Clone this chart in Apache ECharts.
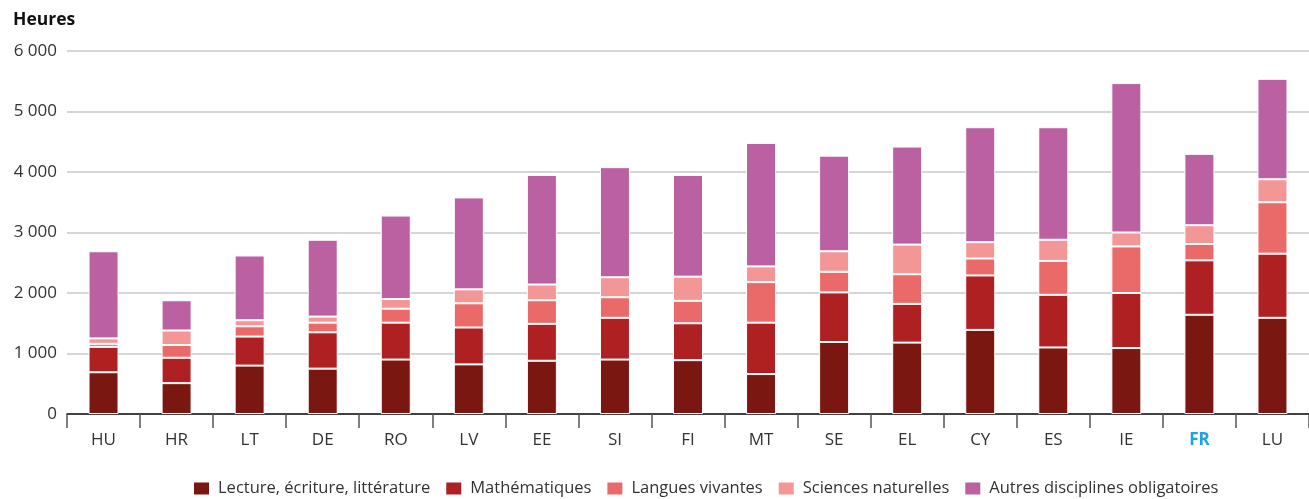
<!DOCTYPE html>
<html>
<head>
<meta charset="utf-8">
<script src="https://cdn.jsdelivr.net/npm/echarts@6/dist/echarts.min.js"></script>
<style>
  html, body { margin: 0; padding: 0; background: #fff; }
  #chart { width: 1309px; height: 499px; }
</style>
</head>
<body>
<div id="chart"></div>
<script>
// Heures d'enseignement obligatoires par pays et par discipline
const countries = ['HU', 'HR', 'LT', 'DE', 'RO', 'LV', 'EE', 'SI', 'FI', 'MT', 'SE', 'EL', 'CY', 'ES', 'IE', 'FR', 'LU'];

const lecture   = [690, 510, 800, 750, 900, 820, 880, 900, 890, 660, 1190, 1180, 1390, 1100, 1090, 1640, 1590];
const maths     = [420, 420, 480, 600, 610, 610, 610, 690, 610, 850, 820, 640, 900, 870, 910, 900, 1060];
const langues   = [50, 210, 170, 160, 230, 400, 390, 340, 370, 670, 340, 490, 280, 560, 770, 270, 850];
const sciences  = [90, 240, 100, 100, 160, 230, 260, 330, 400, 260, 340, 490, 270, 350, 230, 310, 380];
const autres    = [1440, 500, 1070, 1270, 1380, 1520, 1810, 1820, 1680, 2040, 1580, 1620, 1900, 1860, 2470, 1180, 1660];

const yTicks = [0, 1000, 2000, 3000, 4000, 5000, 6000];

const seriesDefs = [
  { name: 'Lecture, écriture, littérature', data: lecture,  color: '#7b1711' },
  { name: 'Mathématiques',                  data: maths,    color: '#ae2022' },
  { name: 'Langues vivantes',               data: langues,  color: '#e96a69' },
  { name: 'Sciences naturelles',            data: sciences, color: '#f29796' },
  { name: 'Autres disciplines obligatoires', data: autres,  color: '#bb60a0' }
];

const FONT = '"Open Sans", "Noto Sans", sans-serif';

const chart = echarts.init(document.getElementById('chart'), null, { renderer: 'canvas' });

chart.setOption({
  animation: false,
  textStyle: { fontFamily: FONT },
  title: {
    text: 'Heures',
    left: 8,
    top: 6,
    textStyle: { fontFamily: FONT, fontSize: 17.5, fontWeight: 'bold', color: '#111' }
  },
  legend: {
    top: 475,
    left: 187,
    itemWidth: 17,
    itemHeight: 14,
    itemGap: 14,
    icon: 'rect',
    textStyle: { fontFamily: FONT, fontSize: 16.5, color: '#333', padding: [0, 0, 0, 3] },
    data: seriesDefs.map(s => s.name)
  },
  grid: { left: 67, right: 0, top: 51, bottom: 85, containLabel: false },
  xAxis: {
    type: 'category',
    data: countries,
    boundaryGap: true,
    axisLine: { lineStyle: { color: '#111', width: 1.5 } },
    axisTick: { show: true, length: 14, lineStyle: { color: '#555', width: 1.5 } },
    axisLabel: {
      margin: 18,
      fontSize: 17,
      color: '#333',
      formatter: v => v === 'FR' ? '{fr|' + v + '}' : v,
      rich: { fr: { fontSize: 17, fontWeight: 'bold', color: '#1ba3e2', fontFamily: FONT } }
    }
  },
  yAxis: {
    type: 'value',
    min: yTicks[0],
    max: yTicks[yTicks.length - 1],
    interval: 1000,
    axisLine: { show: false },
    axisTick: { show: false },
    splitLine: { lineStyle: { color: '#c9c9c9', width: 1.5 } },
    axisLabel: {
      margin: 10,
      fontSize: 17,
      color: '#333',
      formatter: v => String(v).replace(/\B(?=(\d{3})+(?!\d))/g, ' ')
    }
  },
  series: seriesDefs.map(s => ({
    name: s.name,
    type: 'bar',
    stack: 'total',
    barWidth: 30,
    data: s.data,
    itemStyle: { color: s.color, borderColor: '#ffffff', borderWidth: 1 },
    emphasis: { disabled: true }
  }))
});
</script>
</body>
</html>
